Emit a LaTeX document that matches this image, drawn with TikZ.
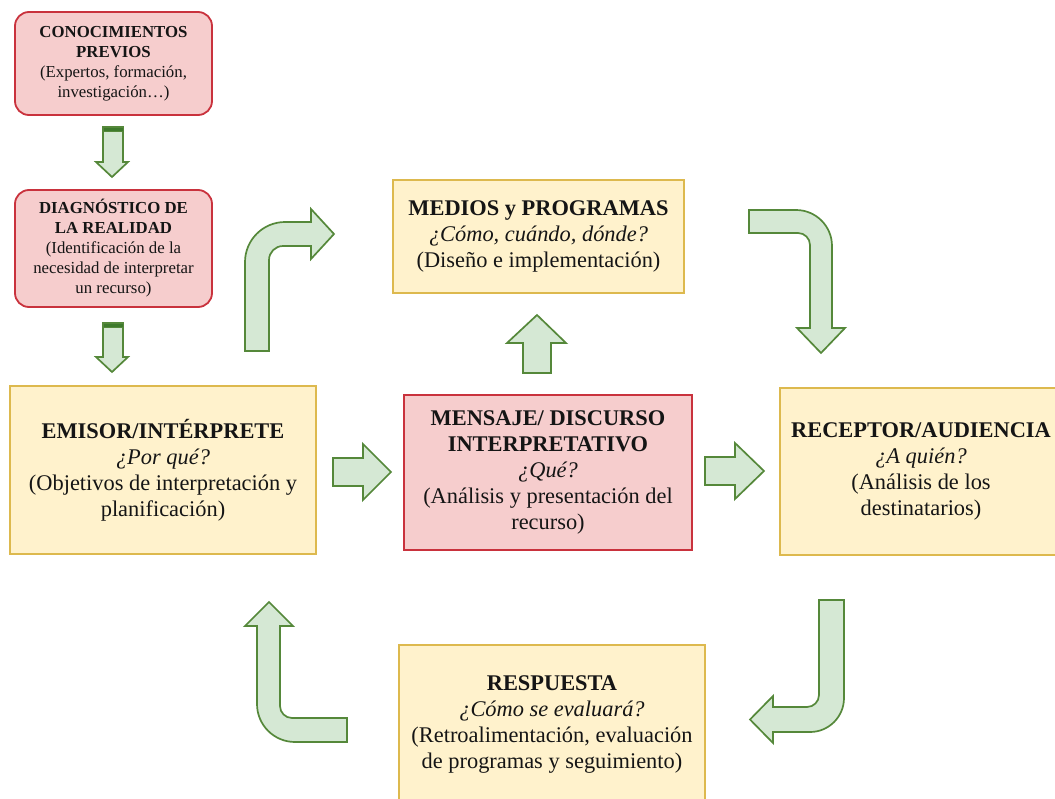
\documentclass[tikz,border=0pt]{standalone}
\usepackage{fontspec}
\setmainfont{Liberation Serif}
\definecolor{yfill}{HTML}{FFF2CC}
\definecolor{ydraw}{HTML}{DDB94E}
\definecolor{rfill}{HTML}{F6CDCD}
\definecolor{rdraw}{HTML}{C9323D}
\definecolor{gfill}{HTML}{D5E8D4}
\definecolor{gdraw}{HTML}{55883A}
\definecolor{gband}{HTML}{3E7A2C}
\definecolor{txt}{HTML}{151515}
\tikzset{
  bigfont/.style={font=\fontsize{22.4}{26}\selectfont},
  smallfont/.style={font=\fontsize{16.8}{20}\selectfont},
  ybox/.style={draw=ydraw, fill=yfill, line width=1.8pt, align=center, text=txt, inner sep=0pt, bigfont},
  rbox/.style={draw=rdraw, fill=rfill, line width=1.8pt, align=center, text=txt, inner sep=0pt, bigfont},
  rround/.style={draw=rdraw, fill=rfill, line width=1.8pt, rounded corners=14pt, align=center, text=txt, inner sep=0pt, smallfont},
  blockarrow/.style={fill=gfill, draw=gdraw, line width=1.7pt, line join=miter},
  bandfill/.style={fill=gband, draw=gdraw, line width=1pt}
}
\begin{document}
\begin{tikzpicture}[x=1pt,y=-1pt]
\useasboundingbox (0,0) rectangle (1055,798);

% boxes
\node[rround, minimum width=197pt, minimum height=103pt] (prev) at (113.5,63.5)
  {\textbf{CONOCIMIENTOS}\\\textbf{PREVIOS}\\(Expertos, formación,\\investigación…)};
\node[rround, minimum width=197pt, minimum height=117pt] (diag) at (113.5,248.5)
  {\textbf{DIAGNÓSTICO DE}\\\textbf{LA REALIDAD}\\(Identificación de la\\necesidad de interpretar\\un recurso)};
\node[ybox, minimum width=291pt, minimum height=113pt] (medios) at (538.5,236.5)
  {\textbf{MEDIOS y PROGRAMAS}\\\textit{¿Cómo, cuándo, dónde?}\\(Diseño e implementación)};
\node[ybox, minimum width=306pt, minimum height=168pt] (emisor) at (163,470)
  {\textbf{EMISOR/INTÉRPRETE}\\\textit{¿Por qué?}\\(Objetivos de interpretación y\\planificación)};
\node[rbox, minimum width=288pt, minimum height=155pt] (mensaje) at (548,472.5)
  {\textbf{MENSAJE/ DISCURSO}\\\textbf{INTERPRETATIVO}\\\textit{¿Qué?}\\(Análisis y presentación del\\recurso)};
\node[ybox, minimum width=282pt, minimum height=167pt] (receptor) at (921,471.5)
  {\textbf{RECEPTOR/AUDIENCIA}\\\textit{¿A quién?}\\(Análisis de los\\destinatarios)};
\node[ybox, minimum width=306pt, minimum height=158pt] (respuesta) at (552,724)
  {\textbf{RESPUESTA}\\\textit{¿Cómo se evaluará?}\\(Retroalimentación, evaluación\\de programas y seguimiento)};

% down arrows with dark band
\draw[blockarrow] (103,127) -- (123,127) -- (123,162) -- (128,162) -- (112,177) -- (96,162) -- (103,162) -- cycle;
\draw[bandfill] (103,127) rectangle (123,131.5);
\draw[blockarrow] (103,323) -- (123,323) -- (123,357) -- (128,357) -- (112,372) -- (96,357) -- (103,357) -- cycle;
\draw[bandfill] (103,323) rectangle (123,327.5);

% straight arrows
\draw[blockarrow] (333,458) -- (363,458) -- (363,444) -- (391,472) -- (363,500) -- (363,486) -- (333,486) -- cycle;
\draw[blockarrow] (705,457) -- (735,457) -- (735,443) -- (764,471) -- (735,499) -- (735,485) -- (705,485) -- cycle;
\draw[blockarrow] (523,373) -- (523,343) -- (507,343) -- (537,315) -- (566,343) -- (551,343) -- (551,373) -- cycle;

% bent arrow: emisor -> medios
\draw[blockarrow] (245,351) -- (245,262) .. controls (245,240) and (263,222) .. (285,222) -- (311,222) -- (311,209) -- (334,234)
  -- (311,259) -- (311,246) -- (283,246) .. controls (275.3,246) and (269,252.3) .. (269,260) -- (269,351) -- cycle;
% bent arrow: medios -> receptor
\draw[blockarrow] (749,210) -- (796,210) .. controls (815.9,210) and (832,226.1) .. (832,246) -- (832,328) -- (845,328) -- (821,353)
  -- (797,328) -- (810,328) -- (810,245) .. controls (810,238.4) and (804.6,233) .. (798,233) -- (749,233) -- cycle;
% bent arrow: receptor -> respuesta
\draw[blockarrow] (819,600) -- (819,695) .. controls (819,701.6) and (813.6,707) .. (807,707) -- (773,707) -- (773,696) -- (750,719.5)
  -- (773,743) -- (773,732) -- (810,732) .. controls (828.8,732) and (844,716.8) .. (844,698) -- (844,600) -- cycle;
% bent arrow: respuesta -> emisor
\draw[blockarrow] (269,602) -- (293,626) -- (280,626) -- (280,706) .. controls (280,712.6) and (285.4,718) .. (292,718) -- (347,718)
  -- (347,742) -- (295,742) .. controls (274,742) and (257,725) .. (257,704) -- (257,626) -- (245,626) -- cycle;
\end{tikzpicture}
\end{document}
